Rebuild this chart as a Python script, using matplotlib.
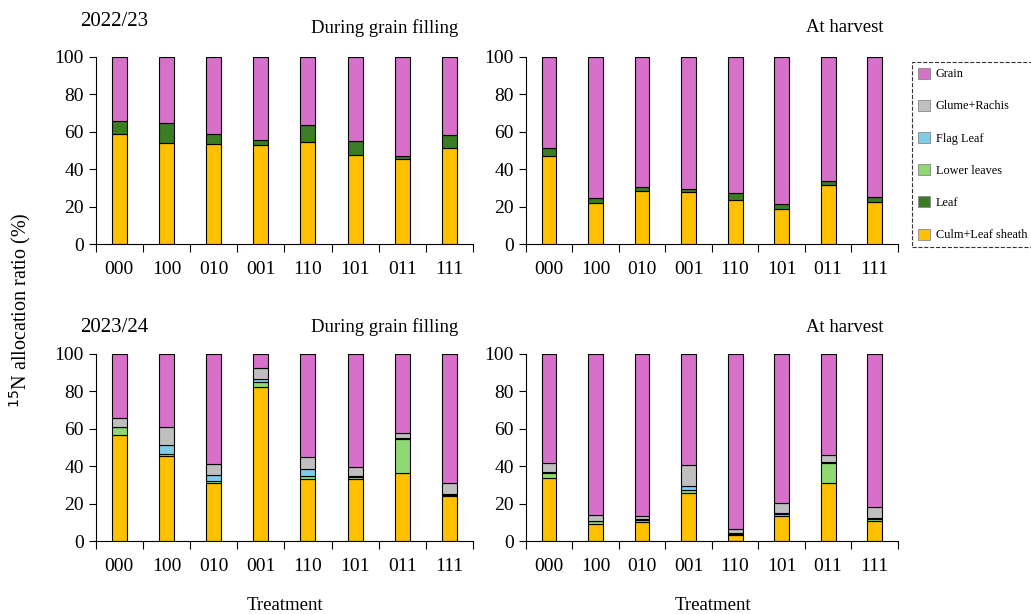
import numpy as np
import matplotlib.pyplot as plt
from matplotlib.patches import Patch

plt.rcParams['font.family'] = ['Liberation Serif', 'DejaVu Serif']

treatments = ["000", "100", "010", "001", "110", "101", "011", "111"]
parts = ["Culm+Leaf sheath", "Leaf", "Lower leaves", "Flag Leaf", "Glume+Rachis", "Grain"]
colors = ["#FFC000", "#3A7D22", "#8ED973", "#7ECCEA", "#BFBFBF", "#D670C8"]

# 2022/23, during grain filling
gf22_culm = [58.8, 53.9, 53.4, 52.9, 54.8, 47.7, 45.4, 51.3]
gf22_leaf = [7.1, 10.7, 5.2, 2.6, 8.8, 7.5, 1.6, 6.9]
gf22_grain = [34.1, 35.4, 41.4, 44.5, 36.4, 44.8, 53.0, 41.8]

# 2022/23, at harvest
h22_culm = [47.0, 22.0, 28.2, 27.7, 23.4, 18.6, 31.4, 22.3]
h22_leaf = [4.4, 2.6, 2.2, 1.8, 3.7, 2.8, 2.2, 2.9]
h22_grain = [48.6, 75.4, 69.6, 70.5, 72.9, 78.6, 66.4, 74.8]

# 2023/24, during grain filling
gf23_culm = [56.7, 45.5, 31.4, 82.2, 33.5, 33.3, 36.7, 24.1]
gf23_lower = [4.1, 1.4, 0.7, 3.0, 1.4, 1.1, 17.8, 0.7]
gf23_flag = [0.3, 4.3, 3.2, 1.6, 3.8, 0.7, 0.8, 0.5]
gf23_glume = [4.5, 9.6, 6.2, 5.7, 6.6, 4.5, 2.8, 6.1]
gf23_grain = [34.4, 39.2, 58.5, 7.5, 54.7, 60.4, 41.9, 68.6]

# 2023/24, at harvest
h23_culm = [33.9, 9.5, 10.4, 25.7, 3.6, 13.8, 31.1, 10.9]
h23_lower = [2.5, 1.2, 1.2, 2.0, 0.5, 0.8, 10.9, 1.1]
h23_flag = [0.7, 0.4, 0.5, 1.8, 0.5, 0.6, 0.2, 0.3]
h23_glume = [4.7, 3.2, 1.5, 11.2, 2.2, 5.5, 4.1, 6.1]
h23_grain = [58.2, 85.7, 86.4, 59.3, 93.2, 79.3, 53.7, 81.6]

zeros = [0] * 8
# data, axes rect, title, title right edge (px), title y (px)
panels = [
    ([gf22_culm, gf22_leaf, zeros, zeros, zeros, gf22_grain], [0.0928, 0.6026, 0.366, 0.3046], "During grain filling", 458, 28),
    ([h22_culm, h22_leaf, zeros, zeros, zeros, h22_grain], [0.5099, 0.6026, 0.361, 0.3046], "At harvest", 883, 28),
    ([gf23_culm, zeros, gf23_lower, gf23_flag, gf23_glume, gf23_grain], [0.0928, 0.1181, 0.366, 0.3054], "During grain filling", 458, 327),
    ([h23_culm, zeros, h23_lower, h23_flag, h23_glume, h23_grain], [0.5099, 0.1181, 0.361, 0.3054], "At harvest", 883, 327),
]

fig = plt.figure(figsize=(10.31, 6.14), dpi=100)
x = np.arange(len(treatments))

for data, rect, title, tx, ty in panels:
    ax = fig.add_axes(rect)
    bottom = np.zeros(len(treatments))
    for vals, c in zip(data, colors):
        vals = np.array(vals, dtype=float)
        if vals.sum() == 0:
            continue
        ax.bar(x, vals, width=0.32, bottom=bottom, color=c,
               edgecolor="black", linewidth=0.8)
        bottom += vals
    ax.set_xlim(-0.5, 7.5)
    ax.set_ylim(0, 100)
    ax.set_yticks(np.arange(0, 101, 20))
    ax.set_xticks(x)
    ax.set_xticklabels(treatments)
    ax.set_xticks(np.arange(-0.5, 8, 1), minor=True)
    ax.tick_params(axis="x", which="major", length=0, pad=12, labelsize=14)
    ax.tick_params(axis="x", which="minor", length=6, direction="out", width=0.8)
    ax.tick_params(axis="y", length=5, direction="out", labelsize=14, width=0.8)
    for s in ["top", "right"]:
        ax.spines[s].set_visible(False)
    fig.text(tx / 1031, 1 - ty / 614, title, ha="right", va="center", fontsize=13.5)

fig.text(80 / 1031, 1 - 22 / 614, "2022/23", fontsize=15, va="center")
fig.text(80 / 1031, 1 - 327 / 614, "2023/24", fontsize=15, va="center")
fig.text(20 / 1031, 1 - 310 / 614, r"$^{15}$N allocation ratio (%)",
         rotation=90, ha="center", va="center", fontsize=14.5)
fig.text(285 / 1031, 1 - 605 / 614, "Treatment", ha="center", va="center", fontsize=13.5)
fig.text(713 / 1031, 1 - 605 / 614, "Treatment", ha="center", va="center", fontsize=13.5)

handles = [Patch(facecolor=c, edgecolor="#888888", linewidth=0.6)
           for c in colors[::-1]]
leg = fig.legend(handles, parts[::-1], loc="upper left",
                 bbox_to_anchor=(906 / 1031, 1 - 56 / 614),
                 fontsize=8.8, labelspacing=1.6, handlelength=1.0,
                 handleheight=1.0, handletextpad=0.5, borderpad=0.45,
                 fancybox=False, framealpha=1)
leg.get_frame().set_linestyle("--")
leg.get_frame().set_edgecolor("#333333")
leg.get_frame().set_linewidth(0.8)

fig.savefig("out.png", dpi=100)
